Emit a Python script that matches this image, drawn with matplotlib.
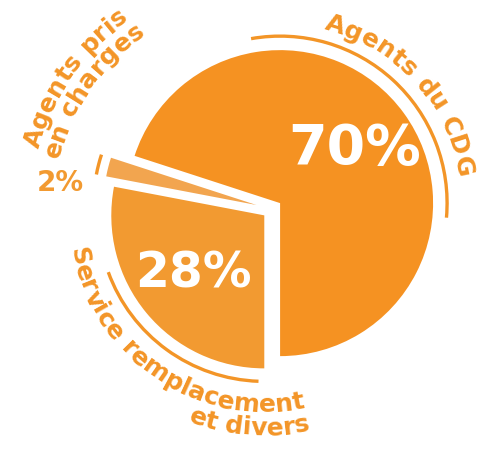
import numpy as np
import matplotlib
matplotlib.use("Agg")
import matplotlib.pyplot as plt
from matplotlib.patches import Arc
from matplotlib.font_manager import FontProperties

# slice data, drawn counter-clockwise from the bottom
names = ["Agents du CDG", "Agents pris\nen charges", "Service remplacement\net divers"]
values = [70, 2, 28]
colors = ["#F59222", "#F2A54F", "#F29A31"]
text_color = "#F39527"

W, H = 490, 450
cx, cy, R = 272, 241, 153

fig = plt.figure(figsize=(W / 100, H / 100), dpi=100)
ax = fig.add_axes([0, 0, 1, 1])
wedges, _ = ax.pie(values, colors=colors, startangle=-90, counterclock=True,
                   center=(cx, cy), radius=R, explode=[10, 16, 10],
                   wedgeprops=dict(linewidth=0))
ax.set_xlim(0, W)
ax.set_ylim(0, H)
ax.set_aspect("equal")
ax.axis("off")

renderer = fig.canvas.get_renderer()


def advance(s, fp):
    if not s:
        return 0.0
    return renderer.get_text_width_height_descent(s, fp, ismath=False)[0]


def curved_text(center, s, r, mid, size, inward=False):
    """Lay a string along a circle; tops outward read clockwise,
    tops inward read counter-clockwise. Returns the end angle."""
    fp = FontProperties(family="DejaVu Sans", weight="bold", size=size)
    widths = [advance(s[:i], fp) for i in range(len(s) + 1)]
    total = widths[-1]
    sign = 1 if inward else -1
    for i, ch in enumerate(s):
        if ch == " ":
            continue
        pos = (widths[i] + widths[i + 1]) / 2 - total / 2
        ang = mid + sign * np.degrees(pos / r)
        x = center[0] + r * np.cos(np.radians(ang))
        y = center[1] + r * np.sin(np.radians(ang))
        rot = ang + 90 if inward else ang - 90
        ax.text(x, y, ch, fontproperties=fp, color=text_color, rotation=rot,
                rotation_mode="anchor", ha="center", va="baseline")
    return mid + sign * np.degrees(total / 2 / r)


def text_width_deg(s, r, size):
    fp = FontProperties(family="DejaVu Sans", weight="bold", size=size)
    return np.degrees(advance(s, fp) / r)


w70, w2, w28 = wedges
mid = lambda w: (w.theta1 + w.theta2) / 2

# percentages inside the big slices
for w, v, fs, d in [(w70, values[0], 40, 0.6), (w28, values[2], 35, 0.6)]:
    a = np.radians(mid(w))
    ax.text(w.center[0] + d * R * np.cos(a), w.center[1] + d * R * np.sin(a),
            f"{v}%", color="white", fontsize=fs, fontweight="bold",
            ha="center", va="center")

# the thin slice is too narrow for its value, put it just outside
a2 = np.radians(mid(w2) + 8)
ax.text(w2.center[0] + (R + 44) * np.cos(a2), w2.center[1] + (R + 44) * np.sin(a2),
        f"{values[1]}%", color="#F29A31", fontsize=20, fontweight="bold",
        ha="center", va="center")

# outline arcs
ax.add_patch(Arc(w70.center, 2 * (R + 14), 2 * (R + 14), theta1=-5, theta2=100,
                 color=text_color, lw=2.4))
ax.add_patch(Arc(w28.center, 2 * (R + 13), 2 * (R + 13), theta1=200, theta2=268,
                 color=text_color, lw=2.4))
ax.add_patch(Arc(w2.center, 2 * (R + 10), 2 * (R + 10), theta1=w2.theta1, theta2=w2.theta2,
                 color=text_color, lw=2.4))

# curved names
curved_text(w70.center, names[0], R + 26, 42, 18)

l1, l2 = names[1].split("\n")
curved_text(w2.center, l1, R + 72, 145, 18)
curved_text(w2.center, l2, R + 50, 145, 18)

l1, l2 = names[2].split("\n")
end = curved_text(w28.center, l1, R + 44, 236, 18, inward=True)
curved_text(w28.center, l2, R + 67, end - text_width_deg(l2, R + 67, 18) / 2, 18, inward=True)

fig.savefig("out.png", dpi=100, facecolor="white")
